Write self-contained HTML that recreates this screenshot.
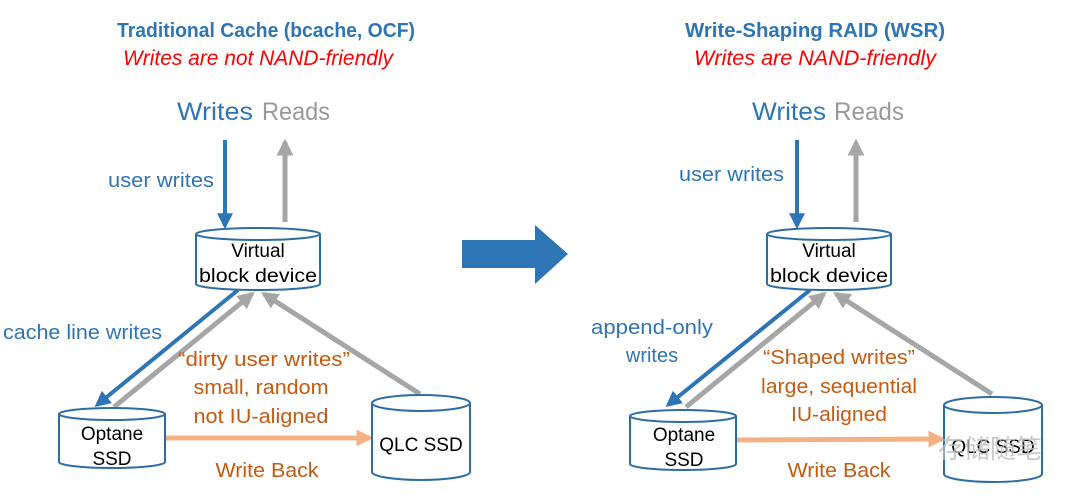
<!DOCTYPE html>
<html><head><meta charset="utf-8"><style>
html,body{margin:0;padding:0;background:#fff;}
svg{display:block;font-family:"Liberation Sans","Noto Sans CJK SC",sans-serif;}
</style></head><body>
<svg width="1080" height="497" viewBox="0 0 1080 497" xmlns="http://www.w3.org/2000/svg">
<defs>
<marker id="mb" viewBox="0 0 10 10" refX="8" refY="5" markerWidth="4" markerHeight="4" orient="auto"><path d="M0,0 L10,5 L0,10 z" fill="#2e75b6"/></marker>
<marker id="mg" viewBox="0 0 10 10" refX="8" refY="5" markerWidth="3.4" markerHeight="3.4" orient="auto"><path d="M0,0 L10,5 L0,10 z" fill="#a6a6a6"/></marker>
<marker id="mo" viewBox="0 0 10 10" refX="8" refY="5" markerWidth="3.4" markerHeight="3.4" orient="auto"><path d="M0,0 L10,5 L0,10 z" fill="#f4b183"/></marker>
</defs>

<!-- LEFT -->
<text x="266" y="37" font-size="20" font-weight="bold" fill="#2e75b6" text-anchor="middle" textLength="298" lengthAdjust="spacingAndGlyphs">Traditional Cache (bcache, OCF)</text>
<text x="258" y="65" font-size="21" font-style="italic" fill="#ff0000" text-anchor="middle" textLength="270" lengthAdjust="spacingAndGlyphs">Writes are not NAND-friendly</text>
<text x="177" y="120" font-size="25" fill="#2e75b6" textLength="76" lengthAdjust="spacingAndGlyphs">Writes</text>
<text x="262" y="120" font-size="25" fill="#999" textLength="68" lengthAdjust="spacingAndGlyphs">Reads</text>
<text x="108" y="187" font-size="20" fill="#2e75b6" textLength="106" lengthAdjust="spacingAndGlyphs">user writes</text>
<line x1="225" y1="140" x2="225" y2="226" stroke="#2e75b6" stroke-width="4" marker-end="url(#mb)"/>
<line x1="285" y1="222" x2="285" y2="142" stroke="#a6a6a6" stroke-width="5" marker-end="url(#mg)"/>

<line x1="238" y1="290" x2="97" y2="405" stroke="#2e75b6" stroke-width="4" marker-end="url(#mb)"/>
<line x1="114" y1="407" x2="252" y2="294" stroke="#a6a6a6" stroke-width="5" marker-end="url(#mg)"/>
<line x1="420" y1="394" x2="264" y2="294" stroke="#a6a6a6" stroke-width="5" marker-end="url(#mg)"/>
<line x1="166" y1="438" x2="370" y2="438" stroke="#f4b183" stroke-width="5" marker-end="url(#mo)"/>

<g fill="#fff" stroke="#2e6da4" stroke-width="2">
<path d="M196,234 V284 A62,6 0 0 0 320,284 V234"/><ellipse cx="258" cy="234" rx="62" ry="6"/>
<path d="M59,414 V462 A53,6 0 0 0 165,462 V414"/><ellipse cx="112" cy="414" rx="53" ry="6"/>
<path d="M372,403 V472 A49,8 0 0 0 470,472 V403"/><ellipse cx="421" cy="403" rx="49" ry="8"/>
</g>
<g font-size="19" fill="#000" text-anchor="middle">
<text x="258" y="257">Virtual</text><text x="258" y="282" textLength="118" lengthAdjust="spacingAndGlyphs">block device</text>
<text x="112" y="440">Optane</text><text x="112" y="465">SSD</text>
<text x="421" y="451">QLC SSD</text>
</g>
<text x="3" y="339" font-size="20" fill="#2e75b6" textLength="159" lengthAdjust="spacingAndGlyphs">cache line writes</text>
<g font-size="20" fill="#c55a11" text-anchor="middle">
<text x="264" y="366" textLength="172" lengthAdjust="spacingAndGlyphs">“dirty user writes”</text>
<text x="261" y="394" textLength="135" lengthAdjust="spacingAndGlyphs">small, random</text>
<text x="261" y="423" textLength="135" lengthAdjust="spacingAndGlyphs">not IU-aligned</text>
<text x="267" y="477" textLength="103" lengthAdjust="spacingAndGlyphs">Write Back</text>
</g>

<!-- big arrow -->
<path d="M462,240 H535 V225 L568,254 L535,284 V268 H462 z" fill="#2e75b6"/>

<!-- RIGHT -->
<text x="815" y="37" font-size="20" font-weight="bold" fill="#2e75b6" text-anchor="middle" textLength="260" lengthAdjust="spacingAndGlyphs">Write-Shaping RAID (WSR)</text>
<text x="815" y="65" font-size="21" font-style="italic" fill="#ff0000" text-anchor="middle" textLength="242" lengthAdjust="spacingAndGlyphs">Writes are NAND-friendly</text>
<text x="752" y="120" font-size="25" fill="#2e75b6" textLength="74" lengthAdjust="spacingAndGlyphs">Writes</text>
<text x="834" y="120" font-size="25" fill="#999" textLength="70" lengthAdjust="spacingAndGlyphs">Reads</text>
<text x="679" y="181" font-size="20" fill="#2e75b6" textLength="105" lengthAdjust="spacingAndGlyphs">user writes</text>
<line x1="797" y1="140" x2="797" y2="226" stroke="#2e75b6" stroke-width="4" marker-end="url(#mb)"/>
<line x1="856" y1="222" x2="856" y2="142" stroke="#a6a6a6" stroke-width="5" marker-end="url(#mg)"/>

<line x1="810" y1="290" x2="668" y2="405" stroke="#2e75b6" stroke-width="4" marker-end="url(#mb)"/>
<line x1="686" y1="407" x2="824" y2="294" stroke="#a6a6a6" stroke-width="5" marker-end="url(#mg)"/>
<line x1="992" y1="394" x2="836" y2="294" stroke="#a6a6a6" stroke-width="5" marker-end="url(#mg)"/>
<line x1="737" y1="440" x2="942" y2="439" stroke="#f4b183" stroke-width="5" marker-end="url(#mo)"/>

<g fill="#fff" stroke="#2e6da4" stroke-width="2">
<path d="M767,234 V284 A62,6 0 0 0 891,284 V234"/><ellipse cx="829" cy="234" rx="62" ry="6"/>
<path d="M630,416 V464 A53,6 0 0 0 736,464 V416"/><ellipse cx="683" cy="416" rx="53" ry="6"/>
<path d="M944,405 V474 A49,8 0 0 0 1042,474 V405"/><ellipse cx="993" cy="405" rx="49" ry="8"/>
</g>
<g font-size="19" fill="#000" text-anchor="middle">
<text x="829" y="257">Virtual</text><text x="829" y="282" textLength="118" lengthAdjust="spacingAndGlyphs">block device</text>
<text x="684" y="441">Optane</text><text x="684" y="466">SSD</text>
<text x="993" y="453">QLC SSD</text>
</g>
<text x="990" y="458" font-size="26" fill="#bbb" fill-opacity="0.8" text-anchor="middle" font-family="Noto Sans CJK SC, sans-serif">存储随笔</text>
<g font-size="20" fill="#2e75b6" text-anchor="middle">
<text x="652" y="334" textLength="122" lengthAdjust="spacingAndGlyphs">append-only</text>
<text x="652" y="362">writes</text>
</g>
<g font-size="20" fill="#c55a11" text-anchor="middle">
<text x="839" y="364" textLength="152" lengthAdjust="spacingAndGlyphs">“Shaped writes”</text>
<text x="839" y="393" textLength="156" lengthAdjust="spacingAndGlyphs">large, sequential</text>
<text x="839" y="421" textLength="96" lengthAdjust="spacingAndGlyphs">IU-aligned</text>
<text x="839" y="477" textLength="103" lengthAdjust="spacingAndGlyphs">Write Back</text>
</g>
</svg>
</body></html>
